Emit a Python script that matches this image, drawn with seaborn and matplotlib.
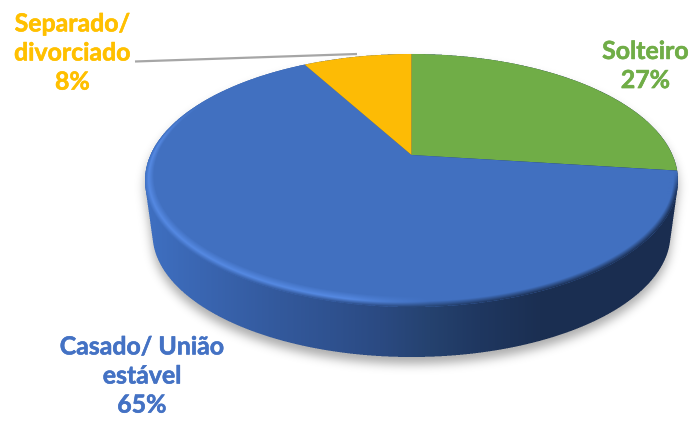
import numpy as np
import matplotlib
matplotlib.use("Agg")
import matplotlib.pyplot as plt
import matplotlib.patheffects as pe
from matplotlib.colors import to_rgb
from matplotlib.transforms import Transform
import seaborn as sns

# Marital status shares
categories = ["Solteiro", "Casado/ União\nestável", "Separado/\ndivorciado"]
shares = [27, 65, 8]
slice_colors = ["#70AD47", "#4170C0", "#FDBB05"]
label_colors = ["#70AD47", "#4472C4", "#FFC000"]

W, H = 691, 421
SS = 3

# Projected disc: apex, perspective strength and outline ellipses
APEX_X, APEX_Y = 411.5, 155.0
PERSP_K, PERSP_A, PERSP_B = 0.2016, 261.0, 121.4
TOP_A, TOP_B, TOP_CY = 266.5, 126.5, 180.5
BOT_A, BOT_B, BOT_CY = 259.0, 123.0, 234.0


class DiscProjection(Transform):
    """Maps the unit pie circle onto a tilted disc seen in perspective."""
    input_dims = 2
    output_dims = 2
    is_affine = False

    def transform_non_affine(self, values):
        values = np.asarray(values, dtype=float)
        u, v = values[:, 0], values[:, 1]
        d = 1 + PERSP_K * v
        return np.column_stack([APEX_X + PERSP_A * u / d, APEX_Y - PERSP_B * v / d])


def hex_stops(colors):
    return np.array([to_rgb(c) for c in colors])


def smooth(x, a, b):
    t = np.clip((x - a) / (b - a), 0, 1)
    return t * t * (3 - 2 * t)


def downsample(rgb, alpha):
    """Averages a supersampled layer into premultiplied-correct RGBA."""
    h, w = alpha.shape
    a = alpha.reshape(h // SS, SS, w // SS, SS).mean(axis=(1, 3))
    out = np.zeros((h // SS, w // SS, 4))
    for i in range(3):
        p = (rgb[..., i] * alpha).reshape(h // SS, SS, w // SS, SS).mean(axis=(1, 3))
        out[..., i] = p / np.maximum(a, 1e-6)
    out[..., 3] = a
    return out


def blur(img, sigma):
    r = int(3 * sigma)
    k = np.exp(-0.5 * (np.arange(-r, r + 1) / sigma) ** 2)
    k /= k.sum()
    img = np.apply_along_axis(lambda m: np.convolve(m, k, mode="same"), 0, img)
    return np.apply_along_axis(lambda m: np.convolve(m, k, mode="same"), 1, img)


sns.set_theme(style="white")
plt.rcParams["font.family"] = ["Lato", "DejaVu Sans"]

fig = plt.figure(figsize=(W / 100, H / 100), dpi=100, facecolor="white")
ax = fig.add_axes([0, 0, 1, 1])

wedges, _ = ax.pie(shares, colors=slice_colors, startangle=90, counterclock=False, radius=1)

xs = (np.arange(W * SS) + 0.5) / SS
ys = (np.arange(H * SS) + 0.5) / SS
X, Y = np.meshgrid(xs, ys)
DX = X - APEX_X

# Silhouette of the whole disc, swept from the top outline to the bottom outline
body = np.zeros_like(X, dtype=bool)
for s in np.linspace(0, 1, 40):
    a = TOP_A + (BOT_A - TOP_A) * s
    b = TOP_B + (BOT_B - TOP_B) * s
    c = TOP_CY + (BOT_CY - TOP_CY) * s
    body |= (DX / a) ** 2 + ((Y - c) / b) ** 2 <= 1

# Soft drop shadow under the disc
body_small = body.reshape(H, SS, W, SS).mean(axis=(1, 3))
shadow_alpha = np.roll(body_small, 7, axis=0)
shadow_alpha = blur(shadow_alpha, 5.0) * 0.33
shadow = np.zeros((H, W, 4))
shadow[..., 3] = shadow_alpha
ax.imshow(shadow, extent=(0, W, H, 0), interpolation="nearest", zorder=0.5)

# Side wall: shading runs from mid blue on the left to navy on the right
side_x = [145, 200, 280, 330, 380, 430, 480, 540, 680]
side_c = hex_stops(["#3F70C2", "#3A66B2", "#33599C", "#2F5290", "#2B4A82",
                    "#25426F", "#1F3760", "#1B2F52", "#1A2D50"])
side_rgb = np.stack([np.interp(X, side_x, side_c[:, i]) for i in range(3)], axis=-1)
ax.imshow(downsample(side_rgb, body.astype(float)), extent=(0, W, H, 0),
          interpolation="nearest", zorder=0.6)

# Slices on the top face
projection = DiscProjection()
for w in wedges:
    w.set_transform(projection + ax.transData)
    w.set_zorder(1)
    w.set_edgecolor("none")
    w.set_clip_on(False)

# Bevel between the top face and the side wall
rho_out = np.sqrt((DX / TOP_A) ** 2 + ((Y - TOP_CY) / TOP_B) ** 2)
rho_in = np.sqrt((DX / (TOP_A - 9)) ** 2 + ((Y - (TOP_CY - 5)) / (TOP_B - 6)) ** 2)
ring = (rho_out <= 1) & (rho_in >= 1)
t = np.clip((rho_in - 1) / np.maximum(rho_in - rho_out, 1e-6), 0, 1)
top_rgb = np.array(to_rgb(slice_colors[1]))
glow_rgb = np.array(to_rgb("#5589E2"))
t3 = t[..., None]
lit = np.where(t3 < 0.6,
               top_rgb + (glow_rgb - top_rgb) * (t3 / 0.6),
               glow_rgb + (side_rgb - glow_rgb) * ((t3 - 0.6) / 0.4))
dark_t = np.clip((t3 - 0.5) / 0.5, 0, 1)
dark = top_rgb + (side_rgb - top_rgb) * dark_t
lit_mix = np.interp(X, [140, 350, 430], [1, 1, 0])[..., None]
bevel_rgb = lit_mix * lit + (1 - lit_mix) * dark
fade_left = smooth(Y, 90, 150)
fade_right = smooth(Y, 168, 195)
fade = np.where(X < APEX_X, fade_left, fade_right)
ax.imshow(downsample(bevel_rgb, ring * fade), extent=(0, W, H, 0),
          interpolation="nearest", zorder=2)

# Leader line for the smallest slice
ax.plot([135, 357], [61.5, 54], color="#A6A6A6", lw=1.6, zorder=3, solid_capstyle="butt")

# Category labels with their percentages
label_pos = [(645.5, 66), (142, 376), (72.5, 53)]
for name, val, col, (lx, ly) in zip(categories, shares, label_colors, label_pos):
    ax.text(lx, ly, f"{name}\n{val}%", color=col, fontsize=17.9, fontweight="bold",
            ha="center", va="center", multialignment="center", linespacing=1.32, zorder=4,
            path_effects=[pe.withStroke(linewidth=0.4, foreground=col)])

ax.set_aspect("auto")
ax.set_xlim(0, W)
ax.set_ylim(H, 0)
ax.set_axis_off()

fig.savefig("out.png", dpi=100, facecolor="white")
